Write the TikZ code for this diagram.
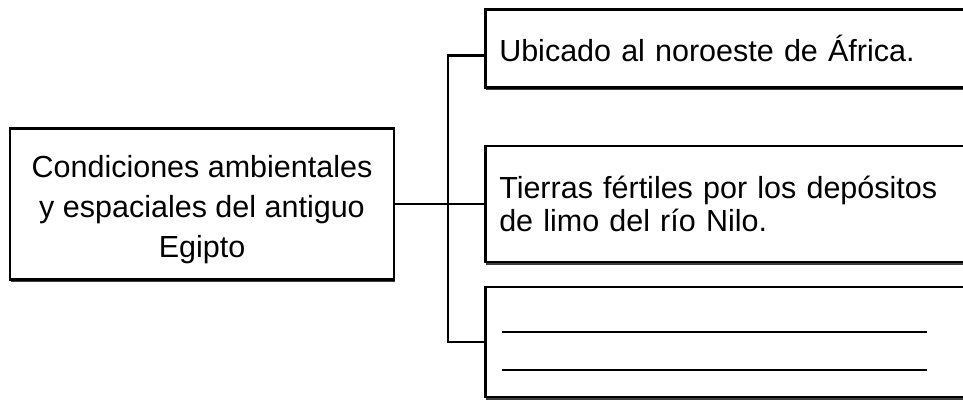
\documentclass[tikz,border=0pt]{standalone}
\usepackage{fontspec}
\setmainfont{Liberation Sans}
\usetikzlibrary{shadows}
\begin{document}
\begin{tikzpicture}[x=1pt,y=-1pt,
  caja/.style={draw,line width=2.5pt,fill=white,
    drop shadow={shadow xshift=0.8pt,shadow yshift=-2.5pt,opacity=0.9,fill=black!85}},
  rama/.style={caja,anchor=west,minimum width=496pt,text width=468pt,
    inner xsep=14pt,align=left,font=\fontsize{30.5}{33}\selectfont},
  linea/.style={line width=2.5pt}]
  \useasboundingbox (0,0) rectangle (963,399);
  \clip (0,0) rectangle (963,399);

  \node[caja,minimum width=384pt,minimum height=151pt,align=center,
    font=\fontsize{30.5}{40}\selectfont] (cond) at (202,204)
    {\rule{0pt}{34pt}Condiciones ambientales\\ y espaciales del antiguo\\ Egipto};

  \node[rama,minimum height=78pt] (ubic) at (484,48.5) {Ubicado al noroeste de África.};
  \node[rama,minimum height=116pt] (tierra) at (484,204)
    {Tierras fértiles por los depósitos\\ de limo del río Nilo.};
  \node[rama,minimum height=110pt] (vacio) at (484,342) {};

  % lineas para completar
  \foreach \y in {332,370}
    \draw[linea] (502,\y) -- (927,\y);

  \draw[linea] (cond.east) -- (cond.east -| tierra.west);
  \draw[linea] ([yshift=-7pt]ubic.west) -- ++(-36,0) |- (vacio.west);
\end{tikzpicture}
\end{document}
